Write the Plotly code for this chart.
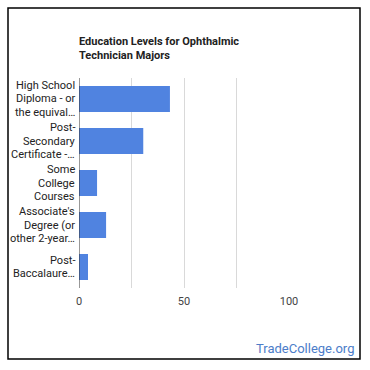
import plotly.graph_objects as go

categories = [
    "High School<br>Diploma - or<br>the equival…",
    "Post-<br>Secondary<br>Certificate -…",
    "Some<br>College<br>Courses",
    "Associate's<br>Degree (or<br>other 2-year…",
    "Post-<br>Baccalaure…",
]
values = [43.3, 30.6, 8.6, 12.9, 4.3]
x_ticks = [0, 50, 100]
x_tick_labels = ["0", "50", "100"]

W = H = 370
LINE_H = 13.2
def px(x):
    return x / W
def py(y):
    return (H - y) / H

fig = go.Figure(go.Bar(
    y=list(range(len(categories))),
    x=values,
    orientation="h",
    marker=dict(color="#5083e0", line=dict(width=0)),
    hoverinfo="skip",
))

label_annotations = []
for i, cat in enumerate(categories):
    lines = cat.split("<br>")
    n = len(lines)
    for k, line in enumerate(lines):
        off = (k - (n - 1) / 2) * LINE_H
        label_annotations.append(dict(
            text=line, xref="x", yref="y", x=0, y=i,
            xanchor="right", yanchor="middle", showarrow=False,
            xshift=-2, yshift=-off,
            font=dict(size=11, color="#222"),
        ))

fig.update_layout(
    width=W, height=H,
    margin=dict(l=0, r=0, t=0, b=0),
    paper_bgcolor="white", plot_bgcolor="white",
    font=dict(family="Roboto, Arial, sans-serif", size=11, color="#222"),
    showlegend=False,
    bargap=0.38,
    xaxis=dict(
        domain=[px(79), px(289)],
        range=[0, 100],
        tickvals=x_ticks, ticktext=x_tick_labels,
        showgrid=True, gridcolor="#d9d9d9", gridwidth=1,
        minor=dict(dtick=25, showgrid=True, gridcolor="#d9d9d9", gridwidth=1),
        zeroline=False, showline=False, ticks="",
        ticklabelstandoff=5,
        tickfont=dict(size=11, color="#444"),
        automargin=False,
        fixedrange=True,
    ),
    yaxis=dict(
        domain=[py(288), py(78)],
        range=[len(categories) - 0.5, -0.5],
        tickvals=list(range(len(categories))), showticklabels=False,
        showgrid=False, zeroline=False, showline=False, ticks="",
        automargin=False,
        fixedrange=True,
    ),
    shapes=[
        dict(type="line", xref="x", yref="paper", x0=0, x1=0,
             y0=py(288), y1=py(78), line=dict(color="#333", width=1)),
        dict(type="rect", xref="paper", yref="paper",
             x0=px(8), x1=px(360), y0=py(359), y1=py(8),
             line=dict(color="black", width=1.5)),
    ],
    annotations=label_annotations + [
        dict(text="<b>Education Levels for Ophthalmic<br>Technician Majors</b>",
             xref="paper", yref="paper", x=px(77), y=py(48.5),
             xanchor="left", yanchor="middle", align="left", showarrow=False,
             font=dict(size=11, color="#222")),
        dict(text="TradeCollege.org", xref="paper", yref="paper",
             x=px(356), y=py(348), xanchor="right", yanchor="middle",
             showarrow=False, font=dict(size=13, color="#4c7dc9")),
    ],
)

fig.write_html("out.html", config=dict(displayModeBar=False),
               post_script="document.body.style.margin='0';")
